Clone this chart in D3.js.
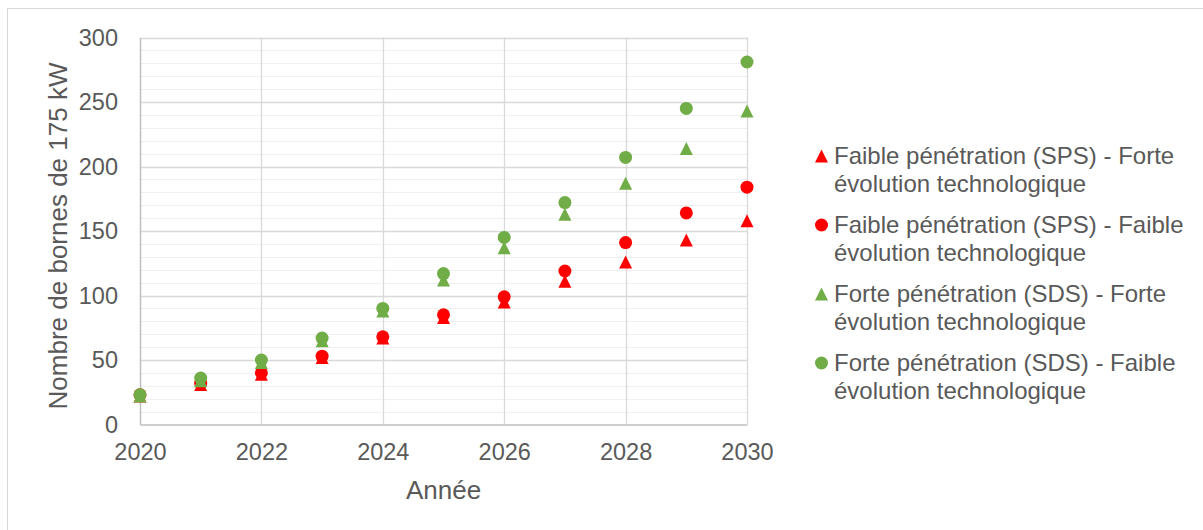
<!DOCTYPE html>
<html>
<head>
<meta charset="utf-8">
<script src="https://cdn.jsdelivr.net/npm/d3@7"></script>
<style>
  html, body { margin: 0; padding: 0; background: #ffffff; }
  svg { display: block; font-family: "Liberation Sans", Arial, sans-serif; }
</style>
</head>
<body>
<svg id="chart" width="1203" height="530"></svg>
<script>
// Years on the horizontal axis
const years = [2020, 2021, 2022, 2023, 2024, 2025, 2026, 2027, 2028, 2029, 2030];

// Number of 175 kW charging points per scenario
const spsForte  = [22, 31, 39, 52, 67, 83, 95, 111, 126, 143, 158];
const spsFaible = [23, 32, 40, 53, 68, 85, 99, 119, 141, 164, 184];
const sdsForte  = [22, 34, 48, 65, 88, 112, 137, 163, 187, 214, 243];
const sdsFaible = [23, 36, 50, 67, 90, 117, 145, 172, 207, 245, 281];

const xTicks = [2020, 2022, 2024, 2026, 2028, 2030];
const yTicks = [0, 50, 100, 150, 200, 250, 300];
const yMinor = d3.range(0, 301, 10);

const seriesNames = [
  ["Faible pénétration (SPS) - Forte", "évolution technologique"],
  ["Faible pénétration (SPS) - Faible", "évolution technologique"],
  ["Forte pénétration (SDS) - Forte", "évolution technologique"],
  ["Forte pénétration (SDS) - Faible", "évolution technologique"]
];

const RED = "#FF0000", GREEN = "#70AD47", TEXT = "#595959";

const series = [
  { name: seriesNames[0], values: spsForte,  color: RED,   shape: "tri" },
  { name: seriesNames[1], values: spsFaible, color: RED,   shape: "circle" },
  { name: seriesNames[2], values: sdsForte,  color: GREEN, shape: "tri" },
  { name: seriesNames[3], values: sdsFaible, color: GREEN, shape: "circle" }
];

// Upward triangle filling a square box of side sqrt(size), centred on the point
const boxTriangle = {
  draw(ctx, size) {
    const s = Math.sqrt(size);
    ctx.moveTo(0, -s / 2);
    ctx.lineTo(s / 2, s / 2);
    ctx.lineTo(-s / 2, s / 2);
    ctx.closePath();
  }
};
const markerPath = {
  tri: d3.symbol().type(boxTriangle).size(13 * 13)(),
  circle: d3.symbol().type(d3.symbolCircle).size(Math.PI * 6.5 * 6.5)()
};

const svg = d3.select("#chart");

// Chart frame
svg.append("rect")
  .attr("x", 7.5).attr("y", 8.5)
  .attr("width", 1200).attr("height", 530)
  .attr("fill", "#ffffff")
  .attr("stroke", "#d9d9d9").attr("stroke-width", 1);

const plot = { left: 140, right: 747, top: 37.5, bottom: 424.5 };

const x = d3.scaleLinear().domain([2020, 2030]).range([plot.left, plot.right]);
const y = d3.scaleLinear().domain([0, 300]).range([plot.bottom, plot.top]);

const grid = svg.append("g");

// Minor horizontal gridlines
grid.selectAll("line.minor")
  .data(yMinor.filter(v => v % 50 !== 0))
  .join("line")
  .attr("x1", plot.left).attr("x2", plot.right)
  .attr("y1", d => Math.round(y(d)) + 0.5).attr("y2", d => Math.round(y(d)) + 0.5)
  .attr("stroke", "#f0f0f0").attr("stroke-width", 1);

// Major horizontal gridlines
grid.selectAll("line.majorY")
  .data(yTicks.filter(v => v > 0))
  .join("line")
  .attr("x1", plot.left).attr("x2", plot.right)
  .attr("y1", d => Math.round(y(d)) + 0.5).attr("y2", d => Math.round(y(d)) + 0.5)
  .attr("stroke", "#d9d9d9").attr("stroke-width", 1.3);

// Major vertical gridlines
grid.selectAll("line.majorX")
  .data(xTicks.filter(v => v > 2020))
  .join("line")
  .attr("x1", d => Math.round(x(d)) + 0.5).attr("x2", d => Math.round(x(d)) + 0.5)
  .attr("y1", plot.top).attr("y2", plot.bottom)
  .attr("stroke", "#d9d9d9").attr("stroke-width", 1.3);

// Axes
const xAxis = d3.axisBottom(x).tickValues(xTicks).tickFormat(d3.format("d")).tickSize(0).tickPadding(19);
const yAxis = d3.axisLeft(y).tickValues(yTicks).tickSize(0).tickPadding(22);

const gx = svg.append("g").attr("transform", `translate(0,${plot.bottom})`).call(xAxis);
gx.select(".domain").attr("stroke", "#bfbfbf").attr("stroke-width", 1.5);
gx.selectAll("text").attr("fill", TEXT).attr("font-size", 23.5).attr("font-family", "Liberation Sans, Arial, sans-serif");

const gy = svg.append("g").attr("transform", `translate(${plot.left},0)`).call(yAxis);
gy.select(".domain").attr("stroke", "#bfbfbf").attr("stroke-width", 1.5);
gy.selectAll("text").attr("fill", TEXT).attr("font-size", 23.5).attr("font-family", "Liberation Sans, Arial, sans-serif");

// Axis titles
svg.append("text")
  .attr("x", (plot.left + plot.right) / 2).attr("y", 499)
  .attr("text-anchor", "middle")
  .attr("fill", TEXT).attr("font-size", 26)
  .text("Année");

svg.append("text")
  .attr("transform", "translate(67,236) rotate(-90)")
  .attr("text-anchor", "middle")
  .attr("fill", TEXT).attr("font-size", 26)
  .text("Nombre de bornes de 175 kW");

// Markers, later series drawn on top
series.forEach(s => {
  svg.append("g").selectAll("path")
    .data(s.values.map((v, i) => ({ year: years[i], value: v })))
    .join("path")
    .attr("d", markerPath[s.shape])
    .attr("transform", d => `translate(${x(d.year)},${y(d.value)})`)
    .attr("fill", s.color);
});

// Legend
const legend = svg.append("g");
series.forEach((s, i) => {
  const base = 164 + i * 69;
  legend.append("path")
    .attr("d", markerPath[s.shape])
    .attr("transform", `translate(821.5,${base - 8})`)
    .attr("fill", s.color);
  const t = legend.append("text")
    .attr("fill", TEXT).attr("font-size", 24);
  t.append("tspan").attr("x", 834).attr("y", base).text(s.name[0]);
  t.append("tspan").attr("x", 834).attr("y", base + 28).text(s.name[1]);
});
</script>
</body>
</html>
